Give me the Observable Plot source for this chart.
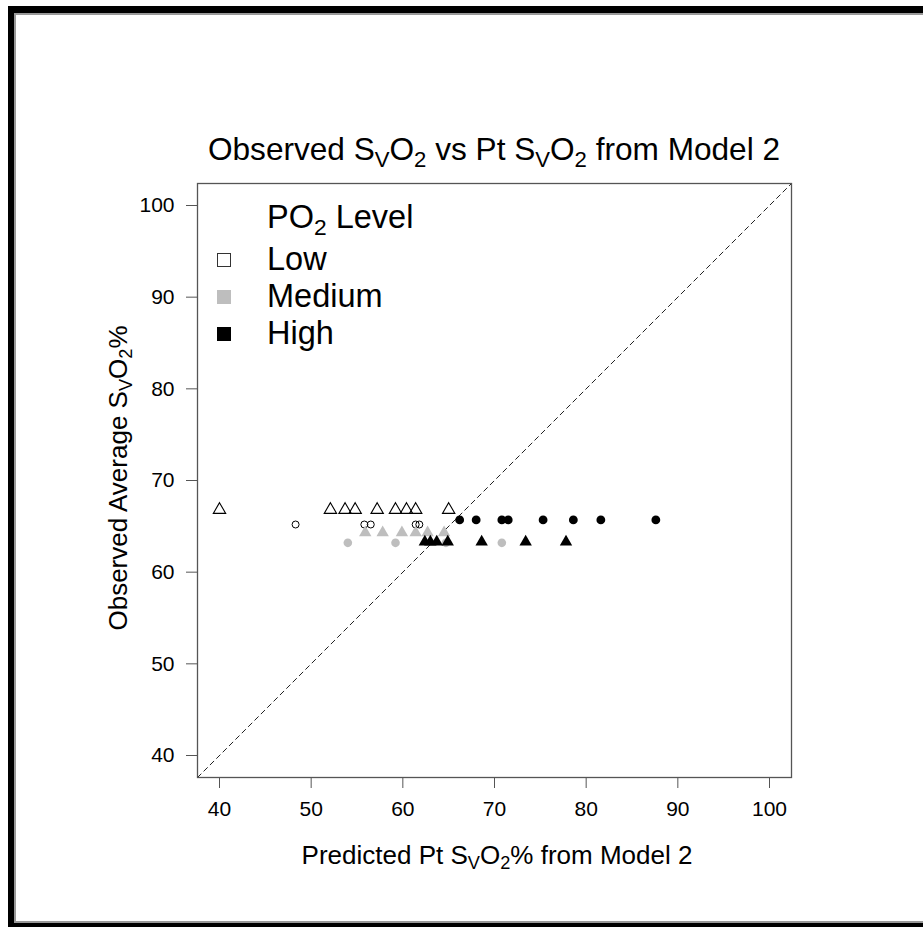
<!DOCTYPE html>
<html><head><meta charset="utf-8">
<script src="https://cdn.jsdelivr.net/npm/d3@7"></script>
<script src="https://cdn.jsdelivr.net/npm/@observablehq/plot@0.6"></script>
<style>
body{margin:0;overflow:hidden;background:#fff;font-family:"Liberation Sans",Arial,sans-serif;}
#wrap{position:relative;width:923px;height:927px;overflow:hidden;background:#fff;}
.b1{position:absolute;left:8px;top:6px;width:1000px;height:921px;background:#000;}
.b2{position:absolute;left:14px;top:13px;width:1000px;height:910px;background:#999;}
.b3{position:absolute;left:16px;top:15px;width:1000px;height:906px;background:#fff;}
#chart{position:absolute;left:0;top:0;}
.t{position:absolute;white-space:nowrap;color:#000;line-height:1;}
sub{font-size:0.7em;vertical-align:baseline;position:relative;top:0.3em;line-height:0;}
.sq{position:absolute;width:14px;height:14px;box-sizing:border-box;}
</style></head><body>
<div id="wrap">
<div class="b1"></div><div class="b2"></div><div class="b3"></div>
<div id="chart"></div>
<div class="t" style="font-size:31.6px;left:494px;top:134px;transform:translateX(-50%);">Observed S<sub>V</sub>O<sub>2</sub> vs Pt S<sub>V</sub>O<sub>2</sub> from Model 2</div>
<div class="t" style="font-size:26px;left:497px;top:842px;transform:translateX(-50%);">Predicted Pt S<sub>V</sub>O<sub>2</sub>% from Model 2</div>
<div class="t" style="font-size:26px;left:118px;top:478px;transform:translate(-50%,-50%) rotate(-90deg);">Observed Average S<sub>V</sub>O<sub>2</sub>%</div>
<div id="legend"></div>
</div>
<script>
// ---- data ----
const xTicks = [40, 50, 60, 70, 80, 90, 100];
const yTicks = [40, 50, 60, 70, 80, 90, 100];
const axisDomain = [37.6, 102.4];

const levels = ["Low", "Medium", "High"];
const levelFill = ["#ffffff", "#bebebe", "#000000"];

// Low: open triangles and open circles
const lowTriX = [40.0, 52.1, 53.7, 54.8, 57.2, 59.2, 60.4, 61.4, 65.0];
const lowTriY = 66.8;
const lowCircX = [48.3, 55.8, 56.5, 61.4, 61.8];
const lowCircY = 65.2;
// Medium: gray triangles and gray circles
const medTriX = [55.9, 57.8, 59.9, 61.4, 62.7, 64.5];
const medTriY = 64.3;
const medCircX = [54.0, 59.2, 64.7, 70.8];
const medCircY = 63.2;
// High: black circles and black triangles
const highCircX = [66.2, 68.0, 70.8, 71.5, 75.3, 78.6, 81.6, 87.6];
const highCircY = 65.7;
const highTriX = [62.4, 63.0, 63.7, 64.9, 68.6, 73.4, 77.8];
const highTriY = 63.3;

const rows = (xs, y) => xs.map(x => ({x, y}));
const diag = axisDomain.map(v => ({x: v, y: v}));

const chart = Plot.plot({
  width: 923, height: 927,
  marginTop: 183, marginRight: 132, marginBottom: 150, marginLeft: 197,
  style: {fontFamily: "'Liberation Sans', Arial, sans-serif", fontSize: "21px", color: "#000", background: "transparent"},
  x: {domain: axisDomain},
  y: {domain: axisDomain},
  marks: [
    Plot.line(diag, {x: "x", y: "y", stroke: "#222", strokeWidth: 1, strokeDasharray: "5,4", clip: true}),
    Plot.frame({stroke: "#555", strokeWidth: 1.3}),
    Plot.axisX(xTicks, {tickSize: 11, tickPadding: 13, fontSize: 21, stroke: "#555", label: null}),
    Plot.axisY(yTicks, {tickSize: 11, tickPadding: 12, fontSize: 21, stroke: "#555", label: null}),
    Plot.dot(rows(lowTriX, lowTriY), {x: "x", y: "y", symbol: "triangle", r: 4.6, fill: "none", stroke: "#000", strokeWidth: 1.1}),
    Plot.dot(rows(lowCircX, lowCircY), {x: "x", y: "y", symbol: "circle", r: 3.5, fill: "none", stroke: "#000", strokeWidth: 1}),
    Plot.dot(rows(medTriX, medTriY), {x: "x", y: "y", symbol: "triangle", r: 4.6, fill: levelFill[1], stroke: "none"}),
    Plot.dot(rows(medCircX, medCircY), {x: "x", y: "y", symbol: "circle", r: 4.3, fill: levelFill[1], stroke: "none"}),
    Plot.dot(rows(highCircX, highCircY), {x: "x", y: "y", symbol: "circle", r: 4.4, fill: levelFill[2], stroke: "none"}),
    Plot.dot(rows(highTriX, highTriY), {x: "x", y: "y", symbol: "triangle", r: 4.6, fill: levelFill[2], stroke: "none"})
  ]
});
document.getElementById("chart").appendChild(chart);

// ---- legend ----
const leg = document.getElementById("legend");
const fs = 32.5;
const legTitle = document.createElement("div");
legTitle.className = "t";
legTitle.style.cssText = "font-size:" + fs + "px;left:267px;top:" + (229 - 0.8465 * fs) + "px;";
legTitle.innerHTML = "PO<sub>2</sub> Level";
leg.appendChild(legTitle);
const baselines = [271, 308, 345];
levels.forEach((name, i) => {
  const sq = document.createElement("div");
  sq.className = "sq";
  sq.style.left = "217px";
  sq.style.top = (baselines[i] - 11.5 - 7) + "px";
  sq.style.background = levelFill[i];
  sq.style.border = i === 0 ? "1.2px solid #333" : "none";
  leg.appendChild(sq);
  const tx = document.createElement("div");
  tx.className = "t";
  tx.style.cssText = "font-size:" + fs + "px;left:267px;top:" + (baselines[i] - 0.8465 * fs) + "px;";
  tx.textContent = name;
  leg.appendChild(tx);
});
</script>
</body></html>
